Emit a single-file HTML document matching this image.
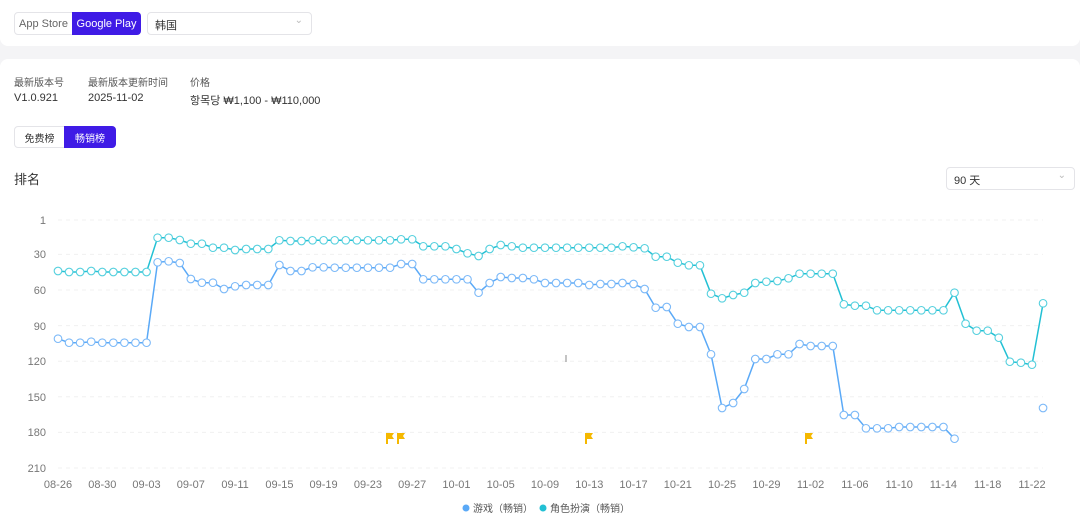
<!DOCTYPE html>
<html><head><meta charset="utf-8"><style>
*{margin:0;padding:0;box-sizing:border-box}
body{width:1080px;height:525px;background:#f4f4f6;font-family:"Liberation Sans","Noto Sans CJK SC",sans-serif;color:#333;position:relative;overflow:hidden}
.card1{position:absolute;left:0;top:0;width:1080px;height:46px;background:#fff;border-radius:0 0 8px 8px}
.card2{position:absolute;left:0;top:59px;width:1080px;height:466px;background:#fff;border-radius:8px 8px 0 0}
.abs{position:absolute}
.btn{position:absolute;font-size:11px;display:flex;align-items:center;justify-content:center}
.lbl{font-size:10px;color:#555}
.val{font-size:11px;color:#333}
</style></head><body>
<div class="card1"></div>
<div class="card2"></div>
<div class="btn" style="left:14px;top:12px;width:59px;height:23px;border:1px solid #e4e4e8;border-radius:4px 0 0 4px;color:#666">App Store</div>
<div class="btn" style="left:72px;top:12px;width:69px;height:23px;background:#3f1be6;border-radius:0 4px 4px 0;color:#fff">Google Play</div>
<div class="abs" style="left:147px;top:12px;width:165px;height:23px;border:1px solid #e4e4e8;border-radius:4px;font-size:11px;padding:4px 7px;color:#333">韩国<span style="position:absolute;right:8px;top:2px;color:#bbb;font-size:10px">⌄</span></div>
<div class="abs lbl" style="left:14px;top:74px">最新版本号</div>
<div class="abs lbl" style="left:88px;top:74px">最新版本更新时间</div>
<div class="abs lbl" style="left:190px;top:74px">价格</div>
<div class="abs val" style="left:14px;top:92px">V1.0.921</div>
<div class="abs val" style="left:88px;top:92px">2025-11-02</div>
<div class="abs val" style="left:190px;top:92px">항목당 ₩1,100 - ₩110,000</div>
<div class="btn" style="left:14px;top:126px;width:51px;height:22px;border:1px solid #e4e4e8;border-radius:4px 0 0 4px;font-size:10px;color:#333">免费榜</div>
<div class="btn" style="left:64px;top:126px;width:52px;height:22px;background:#3f1be6;border-radius:0 4px 4px 0;font-size:10px;color:#fff">畅销榜</div>
<div class="abs" style="left:14px;top:169px;font-size:13px;color:#333">排名</div>
<div class="abs" style="left:946px;top:167px;width:129px;height:23px;border:1px solid #e4e4e8;border-radius:4px;font-size:11px;padding:4px 7px">90 天<span style="position:absolute;right:8px;top:2px;color:#bbb;font-size:10px">⌄</span></div>
<svg class="abs" style="left:0;top:0" width="1080" height="525" id="ch">
<g stroke="#f0f0f0" stroke-dasharray="4,4" stroke-width="1">
<line x1="58" x2="1043" y1="220" y2="220"/><line x1="58" x2="1043" y1="254.4" y2="254.4"/><line x1="58" x2="1043" y1="290" y2="290"/><line x1="58" x2="1043" y1="325.6" y2="325.6"/><line x1="58" x2="1043" y1="361.2" y2="361.2"/><line x1="58" x2="1043" y1="396.8" y2="396.8"/><line x1="58" x2="1043" y1="432.4" y2="432.4"/><line x1="58" x2="1043" y1="468" y2="468"/>
</g>
<g font-size="11" fill="#777" text-anchor="end" font-family="Liberation Sans,sans-serif">
<text x="46" y="224">1</text><text x="46" y="258">30</text><text x="46" y="294">60</text><text x="46" y="330">90</text><text x="46" y="365">120</text><text x="46" y="401">150</text><text x="46" y="436">180</text><text x="46" y="472">210</text>
</g>
<g font-size="11" fill="#777" text-anchor="middle" font-family="Liberation Sans,sans-serif">
<text x="58" y="488">08-26</text><text x="102.3" y="488">08-30</text><text x="146.5" y="488">09-03</text><text x="190.8" y="488">09-07</text><text x="235.1" y="488">09-11</text><text x="279.4" y="488">09-15</text><text x="323.6" y="488">09-19</text><text x="367.9" y="488">09-23</text><text x="412.2" y="488">09-27</text><text x="456.4" y="488">10-01</text><text x="500.7" y="488">10-05</text><text x="545" y="488">10-09</text><text x="589.3" y="488">10-13</text><text x="633.5" y="488">10-17</text><text x="677.8" y="488">10-21</text><text x="722.1" y="488">10-25</text><text x="766.4" y="488">10-29</text><text x="810.6" y="488">11-02</text><text x="854.9" y="488">11-06</text><text x="899.2" y="488">11-10</text><text x="943.4" y="488">11-14</text><text x="987.7" y="488">11-18</text><text x="1032" y="488">11-22</text>
</g>
<line x1="566" x2="566" y1="355" y2="362" stroke="#888"/>
<g fill="#f5b800">
<path d="M386 433h8l-2 3 2 3h-6v5h-2z"/><path d="M397 433h8l-2 3 2 3h-6v5h-2z"/><path d="M585 433h8l-2 3 2 3h-6v5h-2z"/><path d="M805 433h8l-2 3 2 3h-6v5h-2z"/>
</g>
<circle cx="466" cy="508" r="3.5" fill="#5aa9f7"/><text x="473" y="512" font-size="10" fill="#555">游戏（畅销）</text>
<circle cx="543" cy="508" r="3.5" fill="#22c0d4"/><text x="550" y="512" font-size="10" fill="#555">角色扮演（畅销）</text>
<g id="series"></g>
</svg>
<script>
function rep(v,n){return Array(n).fill(v)}
var teal=[271,272,272,271,272,272,272,272,272,
237.7,237.7,240,243.7,243.7,247.7,247.7,250,249,249,249,
240.3,241,241,240.3,240.3].concat(rep(240.3,6),[239.3,239.3,
246.3,246.3,246.3,249,253.3,256,249,245,246.3],rep(247.7,9),
[246.3,247.3,248.3,256.7,256.7,262.7,265.3,265.3,
293.7,298.3,295,292.7,283,281.7,281,278.3,273.7,273.7,273.7,273.7,
304.3,305.7,305.7],rep(310.3,7),[292.7,323.7,330.7,330.7,337.7,361.7,362.7,364.7,303.3]);
var blue=[338.7,342.7,342.7,341.7].concat(rep(342.7,5),[262.3,261.3,263,279,282.7,282.7,289,286.3,285,285,285,
265,271,271,267.3,267.3],rep(267.7,6),[264,264],rep(279.3,5),[292.7,283,277,278,
278,279.3,283,283,283,283,285,284,284,
283,284,289,307.7,307,323.7,327,327,
354.3,408,403,389,359,359,354.3,354.3,344,346,346,346,
415,415,428.3,428.3,428.3,427,427,427,427,427,438.7]);
var g=document.getElementById('series'),ns='http://www.w3.org/2000/svg';
function X(i){return 58+11.068*i}
function draw(arr,col,cstroke,extra){
 var pts=arr.map(function(y,i){return X(i).toFixed(1)+','+y}).join(' ');
 var pl=document.createElementNS(ns,'polyline');pl.setAttribute('points',pts);pl.setAttribute('fill','none');pl.setAttribute('stroke',col);pl.setAttribute('stroke-width','1.5');g.appendChild(pl);
 arr.forEach(function(y,i){c(X(i),y,cstroke)});
 if(extra)extra.forEach(function(p){c(X(p[0]),p[1],cstroke)});
}
function c(x,y,col){var e=document.createElementNS(ns,'circle');e.setAttribute('cx',x);e.setAttribute('cy',y);e.setAttribute('r','3.8');e.setAttribute('fill','#fff');e.setAttribute('stroke',col);e.setAttribute('stroke-width','1.1');g.appendChild(e)}
draw(blue,'#5aa9f7','#7cb9f8',[[89,408]]);
draw(teal,'#22c0d4','#55d0de');
</script>
</body></html>
